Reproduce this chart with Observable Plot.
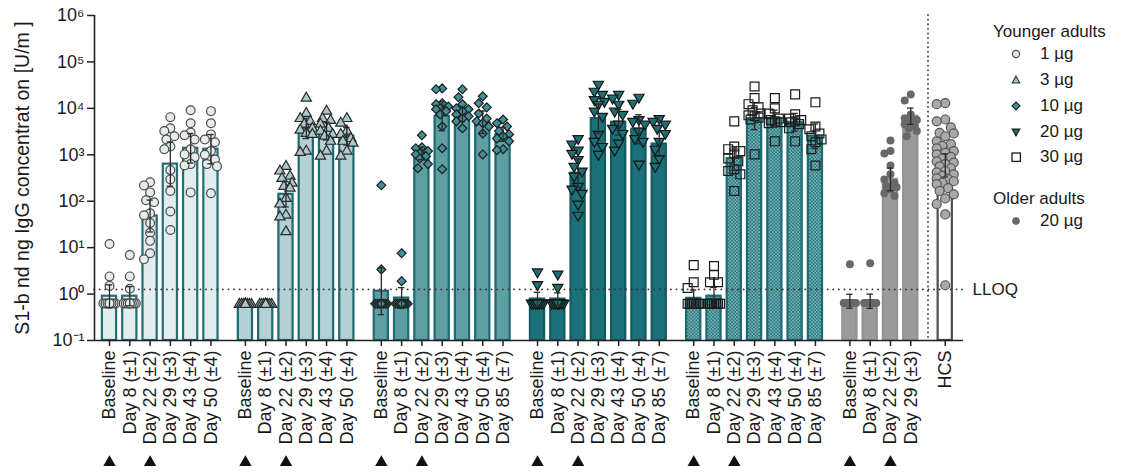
<!DOCTYPE html>
<html><head><meta charset="utf-8">
<script src="https://cdn.jsdelivr.net/npm/d3@7"></script>
<script src="https://cdn.jsdelivr.net/npm/@observablehq/plot@0.6"></script>
<style>
body{margin:0;background:#fff;font-family:"Liberation Sans",Arial,sans-serif;}
#wrap{position:relative;width:1122px;height:472px;overflow:hidden;}
.lg{position:absolute;font-size:17px;color:#1a1a1a;white-space:nowrap;line-height:20px;transform:translateY(-50%);}
.lg svg{position:absolute;left:-30px;top:4px;}
</style></head><body><div id="wrap"></div>
<script>
// ---------- data ----------
const tpYoungA = ["Baseline","Day 8 (±1)","Day 22 (±2)","Day 29 (±3)","Day 43 (±4)","Day 50 (±4)"];
const tpYoungB = ["Baseline","Day 8 (±1)","Day 22 (±2)","Day 29 (±3)","Day 43 (±4)","Day 50 (±4)","Day 85 (±7)"];
const tpOlder = ["Baseline","Day 8 (±1)","Day 22 (±2)","Day 29 (±3)"];
const tpHCS = ["HCS"];
const vaxDays = ["Baseline","Day 22 (±2)"];
const lloq = 1.26;
const yTicks = [0.1, 1, 10, 100, 1000, 10000, 100000, 1000000];
const yLabel = "S1-b nd ng IgG concentrat on [U/m ]";

const gmt1 = [0.9, 0.9, 48, 630, 1380, 1320];
const pts1 = [
 [12, 2.4, 1.5, 0.63, 0.63, 0.63, 0.63, 0.63, 0.63, 0.63, 0.63, 0.63],
 [6.9, 2.4, 1.3, 0.63, 0.63, 0.63, 0.63, 0.63, 0.63, 0.63, 0.63, 0.63],
 [257, 219, 155, 105, 95, 55, 50, 34, 21, 14, 7.6, 5.6],
 [6460, 3720, 3240, 2510, 2140, 1510, 1320, 468, 295, 166, 60, 24],
 [9120, 4790, 3020, 2630, 2140, 1320, 1020, 890, 630, 590, 155],
 [8710, 4790, 2750, 2140, 1860, 1200, 1000, 794, 630, 562, 148]
];
const gmt2 = [0.6, 0.6, 141, 3700, 3240, 2510];
const pts2 = [
 [0.6, 0.6, 0.6, 0.6, 0.6, 0.6, 0.6, 0.6, 0.6, 0.6, 0.6, 0.6],
 [0.6, 0.6, 0.6, 0.6, 0.6, 0.6, 0.6, 0.6, 0.6, 0.6, 0.6, 0.6],
 [562, 447, 347, 309, 245, 209, 191, 115, 87, 50, 46, 22],
 [16600, 7760, 6030, 5250, 4570, 3720, 3390, 2880, 2750, 1200, 1120],
 [8710, 6030, 5500, 4570, 3720, 3240, 2750, 2510, 1950, 1200, 933],
 [6030, 4790, 3240, 2750, 2240, 1950, 1780, 1200, 933]
];
const gmt3 = [1.15, 0.82, 1070, 6760, 7410, 5010, 2750];
const pts3 = [
 [220, 3.4, 0.62, 0.62, 0.62, 0.62, 0.62, 0.62, 0.62, 0.62, 0.62],
 [7.6, 1.9, 0.62, 0.62, 0.62, 0.62, 0.62, 0.62, 0.62, 0.62, 0.62],
 [2630, 1450, 1380, 1200, 1070, 1020, 933, 832, 630, 513],
 [26900, 25700, 12900, 12300, 11000, 10000, 9550, 8710, 7410, 4070, 1380, 490],
 [25700, 17400, 12300, 10000, 9550, 8710, 7410, 6760, 6030, 5250, 3720],
 [18200, 12900, 10500, 7760, 6030, 5250, 4790, 4070, 2880, 1020],
 [5750, 4790, 4070, 3240, 2750, 2510, 2240, 1950, 1320, 1260]
];
const gmt4 = [0.78, 0.78, 400, 6000, 5010, 3550, 1700];
const pts4 = [
 [3.0, 1.6, 0.64, 0.64, 0.64, 0.64, 0.64, 0.64, 0.64, 0.64, 0.64],
 [2.7, 1.4, 0.64, 0.64, 0.64, 0.64, 0.64, 0.64, 0.64, 0.64, 0.64],
 [2240, 1700, 1260, 1070, 794, 562, 447, 347, 209, 182, 148, 87, 50],
 [33100, 23400, 20000, 15500, 14100, 12300, 8710, 6760, 2750, 1950, 1510, 1020],
 [20000, 16600, 12300, 8710, 7410, 4570, 3720, 2880, 1780, 1260],
 [17400, 12900, 5750, 5250, 4570, 3240, 2240, 1950, 630],
 [6030, 5250, 4570, 3720, 2880, 1950, 1320, 832, 562]
];
const gmt5 = [0.81, 0.9, 830, 6000, 6000, 5010, 2510];
const pts5 = [
 [4.2, 1.8, 1.35, 0.62, 0.62, 0.62, 0.62, 0.62, 0.62, 0.62, 0.62],
 [4.0, 2.6, 1.8, 1.8, 0.62, 0.62, 0.62, 0.62, 0.62, 0.62, 0.62, 0.62],
 [5250, 1510, 1320, 1200, 1070, 832, 724, 490, 447, 380, 166],
 [29500, 16600, 12300, 10500, 9120, 7760, 7080, 6760, 6310, 5750, 1020],
 [16600, 10000, 7760, 6030, 5620, 5250, 5010, 4790, 1950],
 [20000, 7410, 6030, 5620, 5250, 5010, 4570, 3720, 1950],
 [13500, 4070, 3550, 2880, 2510, 2140, 1860, 1320, 589]
];
const gmt6 = [0.7, 0.7, 295, 6760];
const pts6 = [
 [4.4, 0.64, 0.64, 0.64, 0.64, 0.64, 0.64, 0.64, 0.64, 0.64, 0.64, 0.64],
 [4.6, 0.64, 0.64, 0.64, 0.64, 0.64, 0.64, 0.64, 0.64, 0.64, 0.64, 0.64],
 [2040, 1200, 1070, 589, 380, 295, 245, 209, 200, 182, 148, 129],
 [20000, 14800, 7410, 6030, 5620, 5250, 4570, 4170, 3720, 3240, 2510]
];
const gmtHCS = [590];
const ptsHCS = [
 [12900, 12300, 5750, 5250, 3890, 2950, 2880, 2510, 1950, 1700, 1550, 1380, 1200, 1100, 1020, 900, 832, 724, 680, 631, 560, 513, 447, 420, 380, 350, 309, 300, 269, 250, 234, 191, 166, 141, 115, 87, 52, 1.55]
];

// ---------- styles ----------
const triDown = {draw(ctx, size){ const s = Math.sqrt(size/(Math.sqrt(3)/4)); const h = s*Math.sqrt(3)/2;
  ctx.moveTo(-s/2, -h/3); ctx.lineTo(s/2, -h/3); ctx.lineTo(0, 2*h/3); ctx.closePath(); }};

const groups = [
 {labels: tpYoungA, gmt: gmt1, pts: pts1, barFill:"#e3eded", barStroke:"#236d74", sym:"circle", r:4.4, pFill:"#e4ecec", pStroke:"#4a4a4a", spread:0.3},
 {labels: tpYoungA, gmt: gmt2, pts: pts2, barFill:"#b3d0d4", barStroke:"#1f6870", sym:"triangle", r:3.8, pFill:"#a9c9cd", pStroke:"#2a2a2a", spread:0.3},
 {labels: tpYoungB, gmt: gmt3, pts: pts3, barFill:"#5f9ea3", barStroke:"#1d6a72", sym:"diamond2", r:4.0, pFill:"#3f9098", pStroke:"#1e1e1e", spread:0.3},
 {labels: tpYoungB, gmt: gmt4, pts: pts4, barFill:"#1b7179", barStroke:"#155a61", sym:triDown, r:3.8, pFill:"#1d6f77", pStroke:"#151515", spread:0.3},
 {labels: tpYoungB, gmt: gmt5, pts: pts5, barFill:"url(#dots5)", barStroke:"#1d6a72", sym:"square", r:5.0, pFill:"none", pStroke:"#1a1a1a", spread:0.3},
 {labels: tpOlder, gmt: gmt6, pts: pts6, barFill:"#9b9b9b", barStroke:"#929292", sym:"circle", r:4.0, pFill:"#686868", pStroke:"none", spread:0.3},
 {labels: tpHCS, gmt: gmtHCS, pts: ptsHCS, barFill:"#ffffff", barStroke:"#4d4d4d", sym:"circle", r:4.5, pFill:"#a9a9a9", pStroke:"#555", spread:0.42}
];

// layout positions (slot units)
let start = 0;
groups.forEach(g => { g.start = start; start += g.labels.length + 0.7; });
const X0 = -0.74, X1 = groups[groups.length-1].start + 0.9;

function jitter(vals, spread) {
  const order = vals.map(v => ({v, l: Math.log10(v)})).sort((a,b) => b.l - a.l);
  const placed = [];
  const cands = [0, -spread*0.66, spread*0.66, -spread*0.33, spread*0.33, -spread, spread];
  for (const p of order) {
    let best = 0, bestScore = -Infinity;
    for (const c of cands) {
      let minD = Infinity;
      for (const q of placed) minD = Math.min(minD, Math.hypot((c - q.off)*20.3, (p.l - q.l)*46.5));
      if (minD >= 8) { best = c; break; }
      if (minD > bestScore) { bestScore = minD; best = c; }
    }
    p.off = best; placed.push(p);
  }
  return placed;
}

const tickPos = [], labelByPos = new Map(), vaxPos = [];
const marks = [];
const barRows = [];
groups.forEach((g, gi) => {
  const bars = [], dots = [];
  g.labels.forEach((lab, i) => {
    const pos = g.start + i;
    tickPos.push(pos); labelByPos.set(pos.toFixed(2), lab);
    if (gi < groups.length - 1 && vaxDays.includes(lab)) vaxPos.push({pos});
    const logs = g.pts[i].map(Math.log10);
    const n = logs.length, sd = d3.deviation(logs) || 0;
    const half = 2.15 * sd / Math.sqrt(n);
    const row = {pos, gmt: g.gmt[i], lo: g.gmt[i] / 10**half, hi: g.gmt[i] * 10**half, err: half > 0.005};
    bars.push(row); barRows.push(row);
    jitter(g.pts[i], g.spread).forEach(p => dots.push({x: pos + p.off, v: p.v}));
  });
  g.bars = bars; g.dots = dots;
});

groups.forEach(g => {
  marks.push(Plot.rect(g.bars, {x1: d => d.pos - 0.35, x2: d => d.pos + 0.35, y1: 0.1, y2: "gmt",
    fill: g.barFill, stroke: g.barStroke, strokeWidth: 2.2}));
});
marks.push(Plot.ruleY([lloq], {stroke:"#333", strokeWidth:1.8, strokeDasharray:"0.1,5.5", strokeLinecap:"round"}));
const sepPos = (groups[5].start + groups[5].labels.length - 1 + groups[6].start) / 2;
marks.push(Plot.ruleX([sepPos], {stroke:"#333", strokeWidth:1.8, strokeDasharray:"0.1,4.5", strokeLinecap:"round"}));
groups.forEach(g => {
  marks.push(Plot.dot(g.dots, {x: "x", y: "v", symbol: g.sym, r: g.r, fill: g.pFill, stroke: g.pStroke, strokeWidth: 1.2}));
});
const errRows = barRows.filter(d => d.err);
marks.push(Plot.ruleX(errRows, {x: "pos", y1: "lo", y2: "hi", stroke: "#2a2a2a", strokeWidth: 1.3}));
marks.push(Plot.ruleY(errRows, {y: "hi", x1: d => d.pos - 0.16, x2: d => d.pos + 0.16, stroke: "#2a2a2a", strokeWidth: 1.3}));
marks.push(Plot.ruleY(errRows, {y: "lo", x1: d => d.pos - 0.16, x2: d => d.pos + 0.16, stroke: "#2a2a2a", strokeWidth: 1.3}));

const sup = {"-":"⁻","0":"⁰","1":"¹","2":"²","3":"³","4":"⁴","5":"⁵","6":"⁶"};
marks.push(Plot.axisY({ticks: yTicks, tickFormat: v => "10" + String(Math.round(Math.log10(v))).split("").map(c => sup[c]).join(""),
  tickSize: 7, tickPadding: 3, fontSize: 18, strokeWidth: 1.5, label: null, stroke: "#222"}));
marks.push(Plot.axisX({ticks: tickPos, tickFormat: p => labelByPos.get(p.toFixed(2)), tickRotate: -90,
  tickSize: 6, tickPadding: 4, fontSize: 18, strokeWidth: 1.5, label: null, stroke: "#222"}));
marks.push(Plot.ruleX([X0], {stroke:"#222", strokeWidth:1.6}));
marks.push(Plot.ruleY([0.1], {stroke:"#222", strokeWidth:1.6}));
marks.push(Plot.text([yLabel], {text: d => d, frameAnchor: "left", textAnchor: "middle", lineAnchor: "middle", rotate: -90, dx: -72, fontSize: 19.5, fill: "#1a1a1a"}));
marks.push(Plot.text([lloq], {y: d => d, text: () => "LLOQ", frameAnchor: "right", textAnchor: "start", dx: 9, fontSize: 17, fill: "#1a1a1a"}));
marks.push(Plot.dot(vaxPos, {x: "pos", symbol: "triangle", r: 4.6, frameAnchor: "bottom", dy: 122, fill: "#111", stroke: "none"}));

const svg = Plot.plot({
  width: 1122, height: 472,
  marginLeft: 94, marginRight: 1122 - 963, marginTop: 15, marginBottom: 132,
  style: {fontFamily: "'Liberation Sans', Arial, sans-serif", fontSize: "17px", color: "#1a1a1a", background: "#fff"},
  x: {type: "linear", domain: [X0, X1]},
  y: {type: "log", domain: [0.1, 1e6]},
  marks
});
const defs = document.createElementNS("http://www.w3.org/2000/svg", "defs");
defs.innerHTML = '<pattern id="dots5" width="3.4" height="3.4" patternUnits="userSpaceOnUse">' +
  '<rect width="3.4" height="3.4" fill="#24797f"/><rect x="0.2" y="0.2" width="1.3" height="1.3" fill="#bcd9db"/>' +
  '<rect x="1.9" y="1.9" width="1.3" height="1.3" fill="#bcd9db"/></pattern>';
svg.insertBefore(defs, svg.firstChild);
const wrap = document.getElementById("wrap");
wrap.appendChild(svg);

// ---------- legend ----------
function sym(kind) {
  const s = {
    circle: '<circle cx="6" cy="6" r="3.6" fill="#e4ecec" stroke="#4a4a4a" stroke-width="1.2"/>',
    tri: '<path d="M6,2.2 L9.8,9 L2.2,9Z" fill="#a9c9cd" stroke="#2a2a2a" stroke-width="1.1"/>',
    dia: '<path d="M6,2 L10,6 L6,10 L2,6Z" fill="#3f9098" stroke="#1e1e1e" stroke-width="1.1"/>',
    tdown: '<path d="M2.2,3 L9.8,3 L6,9.8Z" fill="#1d6f77" stroke="#151515" stroke-width="1.1"/>',
    sq: '<rect x="2" y="2" width="8.4" height="8.4" fill="#fff" stroke="#1a1a1a" stroke-width="1.3"/>',
    dot: '<circle cx="6" cy="6" r="3.8" fill="#686868"/>'
  }[kind];
  return '<svg width="12" height="12">' + s + '</svg>';
}
const legendItems = [
  {text: "Younger adults", x: 993, y: 32},
  {text: "1 µg", x: 1040, y: 54, s: "circle"},
  {text: "3 µg", x: 1040, y: 80, s: "tri"},
  {text: "10 µg", x: 1040, y: 106, s: "dia"},
  {text: "20 µg", x: 1040, y: 132, s: "tdown"},
  {text: "30 µg", x: 1040, y: 157, s: "sq"},
  {text: "Older adults", x: 993, y: 199},
  {text: "20 µg", x: 1040, y: 221, s: "dot"}
];
legendItems.forEach(it => {
  const d = document.createElement("div");
  d.className = "lg";
  d.style.left = it.x + "px"; d.style.top = it.y + "px";
  d.innerHTML = (it.s ? sym(it.s) : "") + it.text;
  wrap.appendChild(d);
});
</script></body></html>
